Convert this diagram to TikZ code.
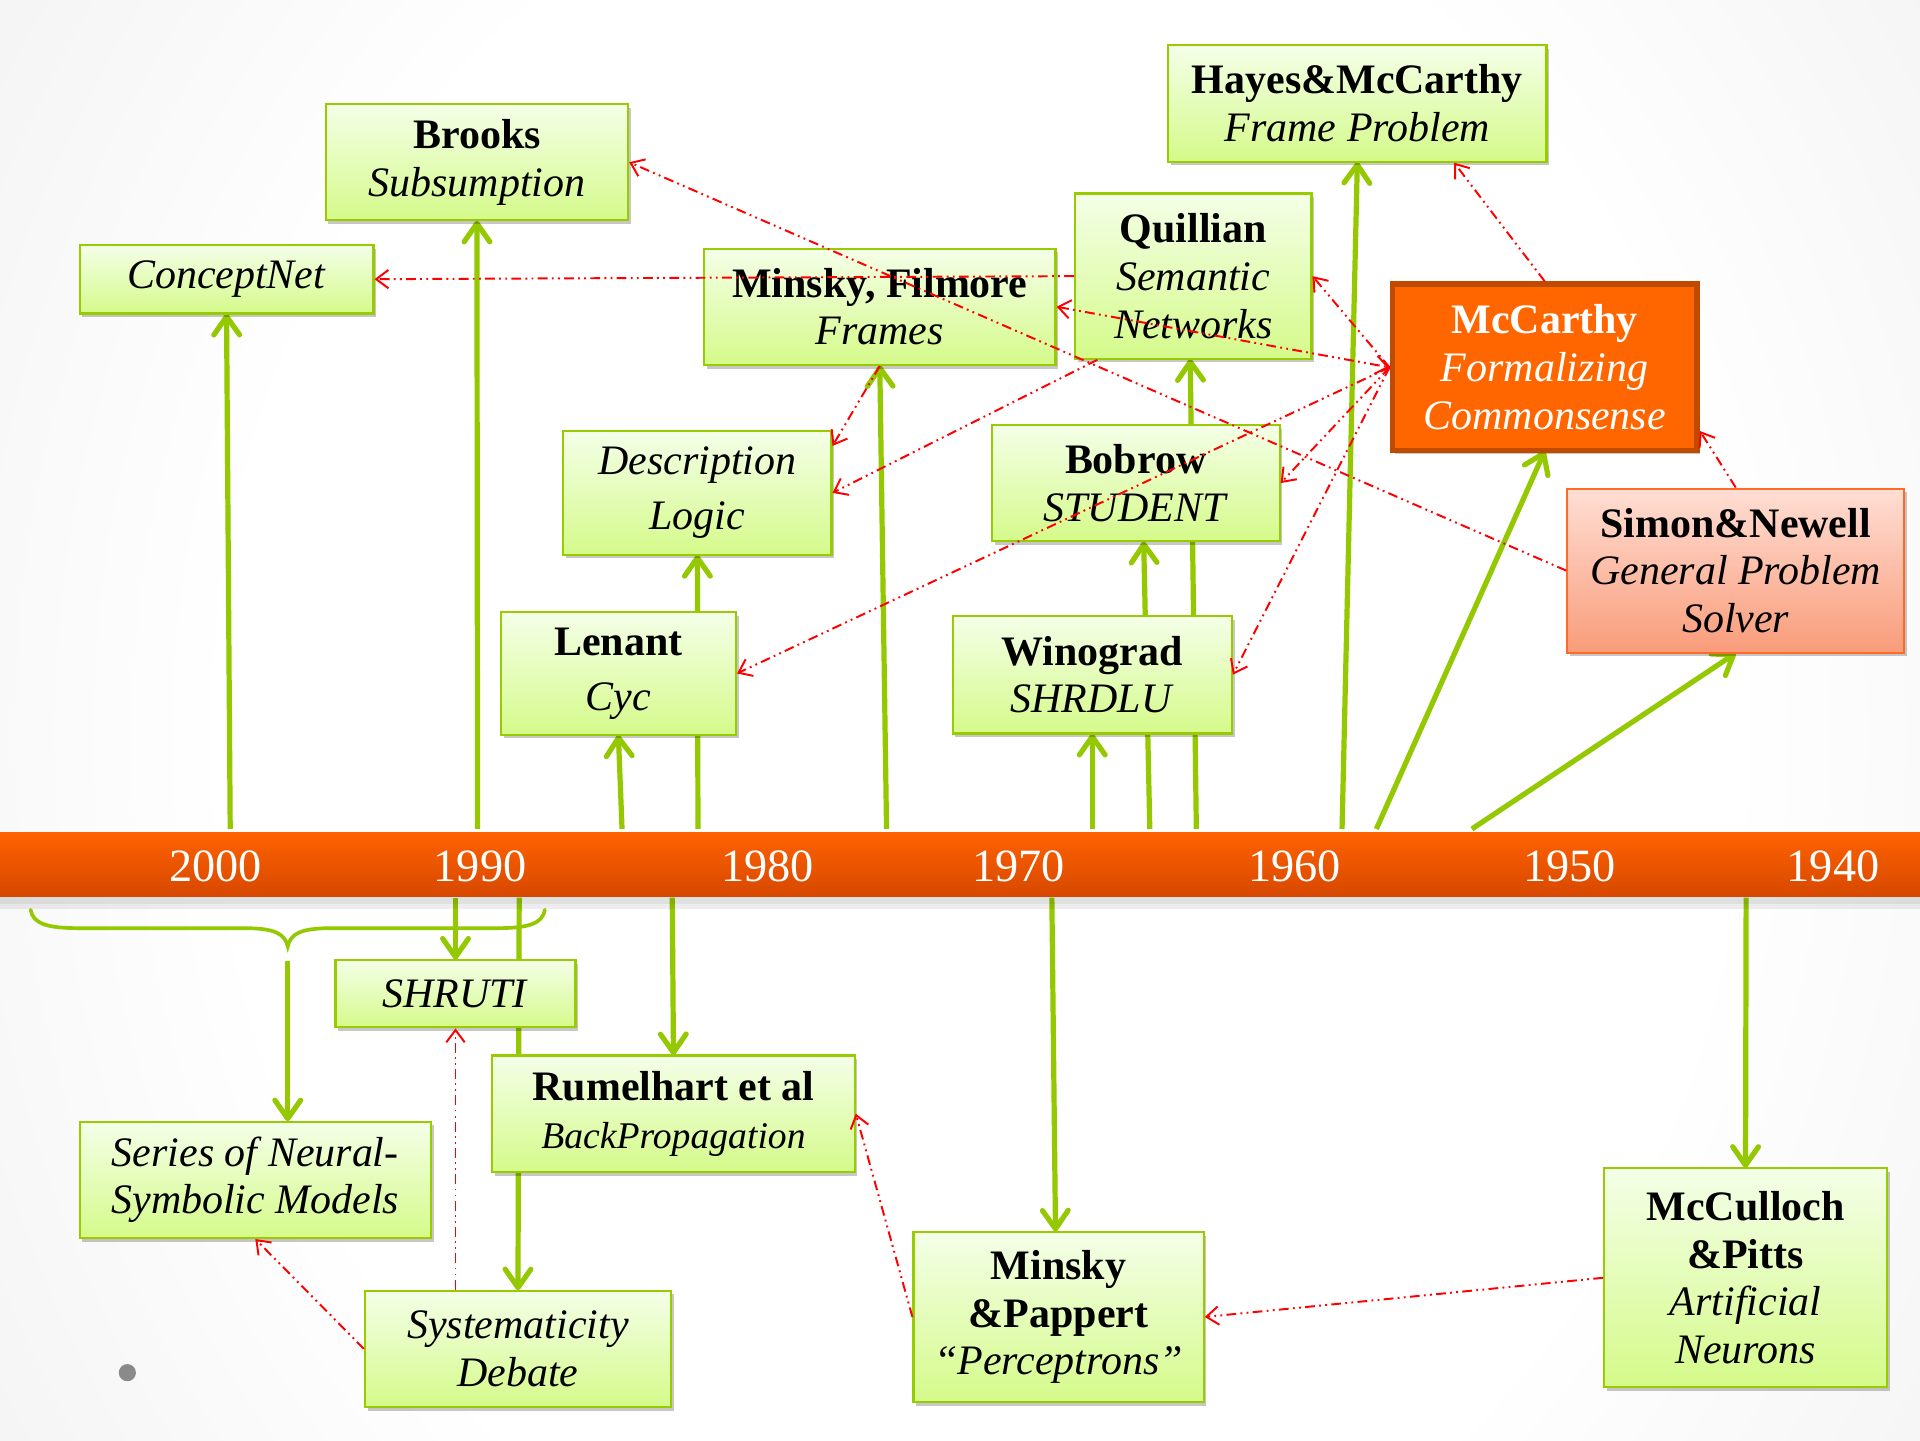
\documentclass[tikz,border=0pt]{standalone}
\usepackage{fontspec}
\setmainfont{Liberation Serif}
\usetikzlibrary{arrows.meta,calc,shadows}

\definecolor{boxline}{HTML}{99CC00}
\definecolor{boxtop}{HTML}{F4FFE8}
\definecolor{boxbot}{HTML}{D5FA8A}
\definecolor{leaf}{HTML}{94C800}
\definecolor{bartop}{HTML}{FF6200}
\definecolor{barbot}{HTML}{D64800}
\definecolor{mcfill}{HTML}{FF6600}
\definecolor{mcline}{HTML}{C04A00}
\definecolor{sntop}{HTML}{FFDED4}
\definecolor{snbot}{HTML}{F99C7A}
\definecolor{snline}{HTML}{FF6A28}
\definecolor{dotgrey}{HTML}{8A8A8A}
\definecolor{link}{HTML}{FF0000}

\pgfdeclareradialshading{backdrop}{\pgfpoint{0bp}{0bp}}{color(0bp)=(white); color(18bp)=(white); color(30bp)=(black!5); color(42bp)=(black!11); color(55bp)=(black!17)}

\tikzset{
  dims/.style 2 args={minimum width=#1*0.2mm, minimum height=#2*0.2mm},
  slot/.style={rectangle, inner sep=0pt},
  card/.style={slot, align=center,
    font=\fontsize{19.5}{22.2}\selectfont,
    drop shadow={shadow xshift=0.45mm, shadow yshift=-0.6mm, opacity=0.22, fill=black}},
  gbox/.style={card, draw=boxline, line width=0.35mm, top color=boxtop, bottom color=boxbot},
  hotbox/.style={card, draw=mcline, line width=0.9mm, fill=mcfill, text=white},
  warmbox/.style={card, draw=snline, line width=0.35mm, top color=sntop, bottom color=snbot},
  sprout/.style={draw=leaf, line width=0.85mm,
    arrows={-Straight Barb[length=3mm,width=4.2mm,round]}},
  influence/.style={draw=link, line width=0.32mm,
    dash pattern=on 1.6mm off 0.7mm on 0.3mm off 0.7mm on 0.3mm off 0.7mm,
    arrows={-Straight Barb[length=2mm,width=3mm]}},
  mutual/.style={influence,
    arrows={Straight Barb[length=2mm,width=3mm]-Straight Barb[length=2mm,width=3mm]}},
  yearlabel/.style={text=white, font=\fontsize{21.5}{24}\selectfont, anchor=base},
}

\begin{document}
\begin{tikzpicture}[x=0.2mm,y=-0.2mm]
\useasboundingbox (0,1176) rectangle (1568,0);
% backdrop: white in the middle, grey towards the sides and corners
\begin{scope}
  \clip (0,1176) rectangle (1568,0);
  \shade[shading=backdrop] (-50,1600) rectangle (1650,-400);
\end{scope}

% outlines of the boxes, placed first so the green arrows can run beneath them
\path node[slot, dims={247}{95}] (brooks) at (389.5,132.5) {}
      node[slot, dims={240}{56}] (concept) at (185,228) {}
      node[slot, dims={287}{95}] (frames) at (718.5,250.5) {}
      node[slot, dims={193}{135}] (quillian) at (974.5,225.5) {}
      node[slot, dims={309}{95}] (hayes) at (1108.5,84.5) {}
      node[slot, dims={249}{136}] (mccarthy) at (1261.5,300) {}
      node[slot, dims={275}{134}] (simon) at (1417.5,466) {}
      node[slot, dims={219}{101}] (dl) at (569.5,402.5) {}
      node[slot, dims={192}{100}] (lenant) at (505,550) {}
      node[slot, dims={235}{95}] (bobrow) at (927.5,394.5) {}
      node[slot, dims={228}{96}] (winograd) at (892,551) {}
      node[slot, dims={196}{55}] (shruti) at (372,811.5) {}
      node[slot, dims={296}{95}] (rum) at (550,909.5) {}
      node[slot, dims={287}{95}] (series) at (208.5,963.5) {}
      node[slot, dims={250}{95}] (syst) at (423,1101.5) {}
      node[slot, dims={237}{139}] (mp) at (864.5,1075.5) {}
      node[slot, dims={231}{179}] (mcc) at (1425.5,1043.5) {};

% roots of the green arrows on the timeline
\coordinate (rA) at (188,677);
\coordinate (rB) at (390,677);
\coordinate (rC) at (508,677);
\coordinate (rD) at (570,677);
\coordinate (rE) at (724,677);
\coordinate (rF) at (892,677);
\coordinate (rG) at (939,677);
\coordinate (rH) at (977,677);
\coordinate (rI) at (1096,677);
\coordinate (rJ) at (1124,677);
\coordinate (rK) at (1202,677);
\coordinate (sA) at (372,733);
\coordinate (sB) at (424,733);
\coordinate (sC) at (549,733);
\coordinate (sD) at (859,733);
\coordinate (sE) at (1426,733);
\coordinate (bl) at (25,743);
\coordinate (br) at (445,743);
\coordinate (btip) at (235,773);
\coordinate (bfoot) at (235,785);

\draw[sprout] (rA) -- (concept.south);
\draw[sprout] (rB) -- (brooks.south);
\draw[sprout] (rC) -- (lenant.south);
\draw[sprout] (rD) -- (dl.south);
\draw[sprout] (rE) -- (frames.south);
\draw[sprout] (rF) -- (winograd.south);
\draw[sprout] (rG) -- ($(bobrow.south)+(6.5,0)$);
\draw[sprout] (rH) -- ($(quillian.south)+(-2.5,0)$);
\draw[sprout] (rI) -- (hayes.south);
\draw[sprout] (rJ) -- (mccarthy.south);
\draw[sprout] (rK) -- (simon.south);
\draw[sprout] (sA) -- (shruti.north);
\draw[sprout] (sB) -- (syst.north);
\draw[sprout] (sC) -- (rum.north);
\draw[sprout] (sD) -- ($(mp.north)+(-2.5,0)$);
\draw[sprout] (sE) -- (mcc.north);
% brace gathering the 1990s--2000s
\draw[leaf, line width=0.6mm, line cap=round]
  (bl) .. controls (27,755) and (40,758) .. (65,758) -- (200,758)
  .. controls (225,758) and (233,763) .. (btip)
  .. controls (237,763) and (245,758) .. (270,758) -- (405,758)
  .. controls (430,758) and (443,755) .. (br);
\draw[sprout] (bfoot) -- (bfoot |- series.north);

% timeline bar with a soft shadow underneath
\fill[black, opacity=0.12] (0,738) rectangle (1568,731);
\fill[black, opacity=0.07] (0,742) rectangle (1568,738);
\shade[top color=bartop, bottom color=barbot] (0,732) rectangle (1568,680);
\node[yearlabel] (y2000) at (176,720) {2000};
\node[yearlabel] (y1990) at (392,720) {1990};
\node[yearlabel] (y1980) at (627,720) {1980};
\node[yearlabel] (y1970) at (832,720) {1970};
\node[yearlabel] (y1960) at (1057,720) {1960};
\node[yearlabel] (y1950) at (1282,720) {1950};
\node[yearlabel] (y1940) at (1497,720) {1940};

% upper row of works
\node[gbox, dims={247}{95}] (brooks) at (389.5,132.5) {\textbf{Brooks}\\\textit{Subsumption}};
\node[gbox, dims={240}{56}] (concept) at (185,228) {\textit{ConceptNet}};
\node[gbox, dims={287}{95}] (frames) at (718.5,250.5) {\textbf{Minsky, Filmore}\\\textit{Frames}};
\node[gbox, dims={193}{135}] (quillian) at (974.5,225.5) {\textbf{Quillian}\\\textit{Semantic}\\\textit{Networks}};
\node[gbox, dims={309}{95}] (hayes) at (1108.5,84.5) {\textbf{Hayes\&McCarthy}\\\textit{Frame Problem}};
\node[hotbox, dims={249}{136}] (mccarthy) at (1261.5,300) {\textbf{McCarthy}\\\textit{Formalizing}\\\textit{Commonsense}};
\node[warmbox, dims={275}{134}] (simon) at (1417.5,466) {\textbf{Simon\&Newell}\\\textit{General Problem}\\\textit{Solver}};
\node[gbox, dims={219}{101}] (dl) at (569.5,402.5) {\textit{Description}\\[3.5pt]\textit{Logic}};
\node[gbox, dims={192}{100}] (lenant) at (505,550) {\textbf{Lenant}\\[3.5pt]\textit{Cyc}};
\node[gbox, dims={235}{95}] (bobrow) at (927.5,394.5) {\textbf{Bobrow}\\\textit{STUDENT}};
\node[gbox, dims={228}{96}] (winograd) at (892,551) {\textbf{Winograd}\\\textit{SHRDLU}};

% lower row of works
\node[gbox, dims={196}{55}] (shruti) at (372,811.5) {\textit{SHRUTI}};
\node[gbox, dims={296}{95}] (rum) at (550,909.5) {\textbf{Rumelhart et al}\\{\fontsize{17.5}{20}\selectfont\textit{BackPropagation}}};
\node[gbox, dims={287}{95}] (series) at (208.5,963.5) {\textit{Series of Neural-}\\\textit{Symbolic Models}};
\node[gbox, dims={250}{95}] (syst) at (423,1101.5) {\textit{Systematicity}\\\textit{Debate}};
\node[gbox, dims={237}{139}] (mp) at (864.5,1075.5) {\textbf{Minsky}\\\textbf{\&Pappert}\\\textit{“Perceptrons”}};
\node[gbox, dims={231}{179}] (mcc) at (1425.5,1043.5) {\textbf{McCulloch}\\\textbf{\&Pitts}\\\textit{Artificial}\\\textit{Neurons}};

% lines of influence
\draw[influence] (quillian.west) -- (concept.east);
\draw[influence] (simon.west) -- (brooks.east);
\draw[influence] (mccarthy.west) -- (quillian.east);
\draw[mutual] (frames.east) -- (mccarthy.west);
\draw[influence] (mccarthy.west) -- (bobrow.east);
\draw[influence] (mccarthy.west) -- (winograd.east);
\draw[influence] (mccarthy.west) -- (lenant.east);
\draw[influence] ($(quillian.south west)+(19,0)$) -- (dl.east);
\draw[influence] (frames.south) -- ($(dl.north east)+(0,13)$);
\draw[influence] (mccarthy.north) -- ($(hayes.south)+(79,0)$);
\draw[influence] (simon.north) -- ($(mccarthy.east)+(0,52)$);
\draw[influence] (mcc.west) -- (mp.east);
\draw[influence] (mp.west) -- (rum.east);
\draw[influence] ($(syst.north)+(-51,0)$) -- (shruti.south);
\draw[influence] (syst.west) -- (series.south);

\fill[dotgrey] (104,1121) circle (7);
\end{tikzpicture}
\end{document}
